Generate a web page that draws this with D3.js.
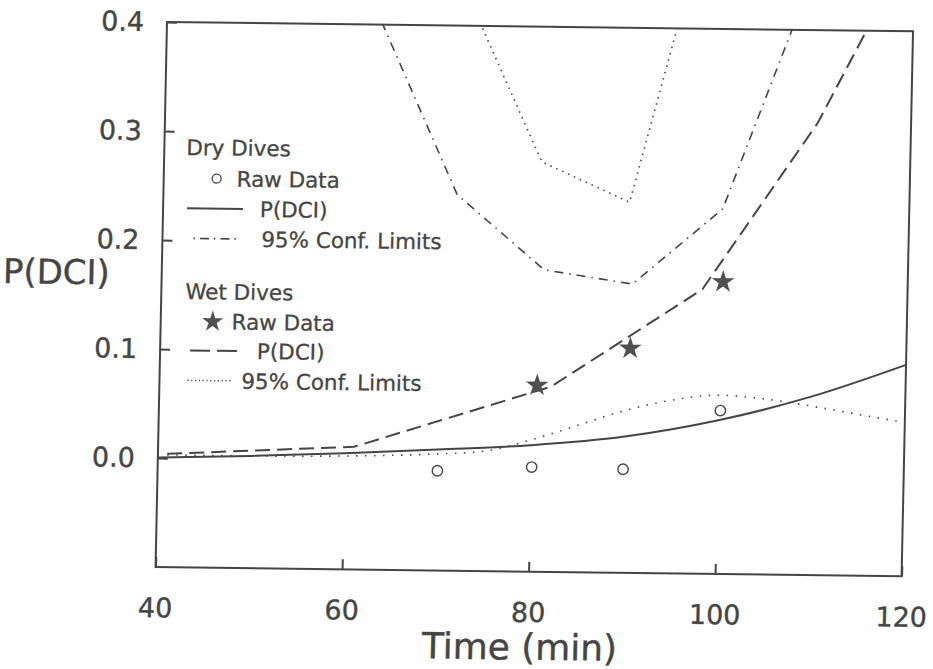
<!DOCTYPE html>
<html><head><meta charset="utf-8">
<script src="https://cdn.jsdelivr.net/npm/d3@7"></script>
<style>body{margin:0;background:#fff}</style>
</head><body>
<svg id="c" width="933" height="669"></svg>
<script>
// ---- data ----
const xTicks = [40, 60, 80, 100, 120];
const yTicks = [0.0, 0.1, 0.2, 0.3, 0.4];
const xDomain = [40, 120];
const yDomain = [-0.1, 0.4];

// Dry dives
const dryRaw = [[70.0, -0.0085], [80.1, -0.004], [89.9, -0.005], [100.2, 0.05]];
const dryP = [[40, 0.0005], [50, 0.003], [60, 0.0065], [70, 0.011], [80, 0.016], [90, 0.025], [100, 0.041], [110, 0.064], [120, 0.094]];
const dryCIUpper = [[61, 0.44], [71.5, 0.245], [81, 0.177], [90.5, 0.165], [100, 0.235], [110, 0.47]];

// Wet dives
const wetRaw = [[80.5, 0.071], [90.4, 0.106], [100.2, 0.168]];
const wetP = [[41, 0.004], [61, 0.0125], [82, 0.07], [98, 0.161], [110, 0.315], [120, 0.485]];
const wetCIUpper = [[70, 0.468], [80.5, 0.276], [90, 0.24], [100, 0.58]];
const wetCILower = [[41, 0.003], [50, 0.003], [60, 0.004], [70, 0.007], [75, 0.010], [80, 0.021], [85, 0.035], [90, 0.049], [95, 0.059], [100, 0.064], [105, 0.061], [110, 0.055], [115, 0.048], [120, 0.041]];

const legendRows = [
  {label: "Dry Dives", kind: "title"},
  {label: "Raw Data", kind: "circle"},
  {label: "P(DCI)", kind: "solid"},
  {label: "95% Conf. Limits", kind: "dashdot"},
  {label: "Wet Dives", kind: "title"},
  {label: "Raw Data", kind: "star"},
  {label: "P(DCI)", kind: "dashed"},
  {label: "95% Conf. Limits", kind: "dotted"}
];

// ---- layout ----
const W = 747, H = 545;
const INK = "#454545";
const FONT = "DejaVu Sans";
const svg = d3.select("#c");
svg.append("rect").attr("width", 933).attr("height", 669).attr("fill", "#fff");
const g = svg.append("g").attr("transform", "matrix(0.9987,0.0125,-0.021,1,167,22)");

const x = d3.scaleLinear().domain(xDomain).range([0, W]);
const y = d3.scaleLinear().domain(yDomain).range([H, 0]);

g.append("clipPath").attr("id", "clip").append("rect").attr("width", W).attr("height", H);

// axes
const xa = g.append("g").attr("transform", `translate(0,${H})`)
  .call(d3.axisBottom(x).tickValues(xTicks).tickSizeInner(-10).tickSizeOuter(0).tickPadding(31).tickFormat(d3.format("d")));
const ya = g.append("g")
  .call(d3.axisLeft(y).tickValues(yTicks).tickSizeInner(-10).tickSizeOuter(0).tickPadding(23).tickFormat(d3.format(".1f")));
[xa, ya].forEach(a => {
  a.select(".domain").remove();
  a.attr("font-family", FONT).attr("font-size", 27);
  a.selectAll("line").attr("stroke", INK).attr("stroke-width", 2);
  a.selectAll("text").attr("fill", INK).attr("stroke", INK).attr("stroke-width", 0.4);
});

// frame
g.append("rect").attr("width", W).attr("height", H).attr("fill", "none").attr("stroke", INK).attr("stroke-width", 2);

// titles
g.append("text").attr("x", x(79.2)).attr("y", 633).attr("text-anchor", "middle")
  .attr("font-family", FONT).attr("font-size", 36).attr("fill", INK).attr("stroke", INK).attr("stroke-width", 0.4).text("Time (min)");
g.append("text").attr("x", -159).attr("y", 263).attr("text-anchor", "start")
  .attr("font-family", FONT).attr("font-size", 34).attr("fill", INK).attr("stroke", INK).attr("stroke-width", 0.4).text("P(DCI)");

// curves
const plot = g.append("g").attr("clip-path", "url(#clip)");
const lin = d3.line().x(d => x(d[0])).y(d => y(d[1]));
const smooth = d3.line().x(d => x(d[0])).y(d => y(d[1])).curve(d3.curveMonotoneX);

plot.append("path").datum(dryP).attr("d", smooth).attr("fill", "none").attr("stroke", INK).attr("stroke-width", 2);
plot.append("path").datum(dryCIUpper).attr("d", lin).attr("fill", "none").attr("stroke", INK).attr("stroke-width", 1.6).attr("stroke-dasharray", "9,6,1.5,6");
plot.append("path").datum(wetP).attr("d", lin).attr("fill", "none").attr("stroke", INK).attr("stroke-width", 2).attr("stroke-dasharray", "15,7");
plot.append("path").datum(wetCIUpper).attr("d", lin).attr("fill", "none").attr("stroke", INK).attr("stroke-width", 1.6).attr("stroke-dasharray", "1.5,5");
plot.append("path").datum(wetCILower).attr("d", smooth).attr("fill", "none").attr("stroke", INK).attr("stroke-width", 1.6).attr("stroke-dasharray", "1.5,7.5");

// points
plot.selectAll("circle.dry").data(dryRaw).join("circle").attr("class", "dry")
  .attr("cx", d => x(d[0])).attr("cy", d => y(d[1])).attr("r", 5.2)
  .attr("fill", "#fff").attr("stroke", INK).attr("stroke-width", 1.4);
const star = d3.symbol().type(d3.symbolStar).size(160);
plot.selectAll("path.wet").data(wetRaw).join("path").attr("class", "wet")
  .attr("transform", d => `translate(${x(d[0])},${y(d[1])})`).attr("d", star).attr("fill", "#505050");

// legend
const rowV = [125, 156, 186, 216, 269, 299, 328, 358];
const textU = [22, 73, 97, 99, 24, 71, 97, 82];
const lg = g.append("g").attr("font-family", FONT).attr("font-size", 21.5).attr("fill", INK).attr("stroke", INK).attr("stroke-width", 0.3);
legendRows.forEach((r, i) => {
  const v = rowV[i];
  lg.append("text").attr("x", textU[i]).attr("y", v).attr("dy", "0.36em").text(r.label);
  if (r.kind === "circle") {
    lg.append("circle").attr("cx", 53).attr("cy", v).attr("r", 4.5).attr("fill", "#fff").attr("stroke", INK).attr("stroke-width", 1.3);
  } else if (r.kind === "star") {
    lg.append("path").attr("transform", `translate(52,${v})`).attr("d", d3.symbol().type(d3.symbolStar).size(140)).attr("fill", "#505050").attr("stroke", "none");
  } else if (r.kind === "solid") {
    lg.append("line").attr("x1", 24).attr("x2", 80).attr("y1", v).attr("y2", v).attr("stroke", INK).attr("stroke-width", 2);
  } else if (r.kind === "dashdot") {
    lg.append("line").attr("x1", 31).attr("x2", 78).attr("y1", v).attr("y2", v).attr("stroke", INK).attr("stroke-width", 1.6).attr("stroke-dasharray", "1.5,5,9,5");
  } else if (r.kind === "dashed") {
    lg.append("line").attr("x1", 30).attr("x2", 77).attr("y1", v).attr("y2", v).attr("stroke", INK).attr("stroke-width", 2).attr("stroke-dasharray", "20,7");
  } else if (r.kind === "dotted") {
    lg.append("line").attr("x1", 28).attr("x2", 71).attr("y1", v).attr("y2", v).attr("stroke", INK).attr("stroke-width", 1.5).attr("stroke-dasharray", "1.2,2.6");
  }
});
</script>
</body></html>
